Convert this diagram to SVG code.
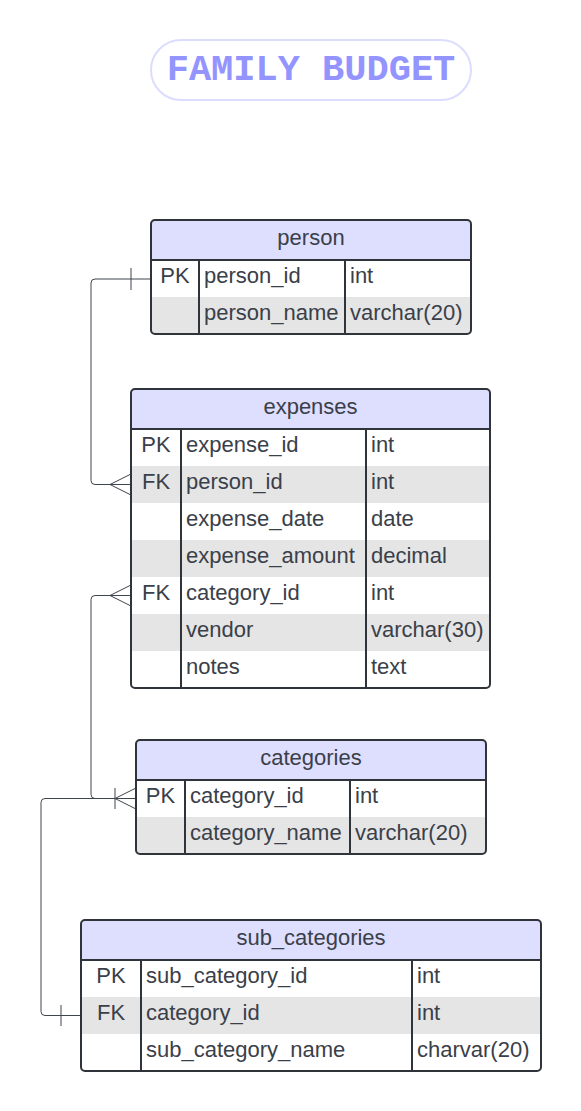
<svg xmlns="http://www.w3.org/2000/svg" width="581" height="1111" viewBox="0 0 581 1111">
<style>
.t{font-family:"Liberation Sans",Arial,sans-serif;font-size:22px;fill:#3a4049}
.c{text-anchor:middle}
.hd{fill:#dedeff}
.gr{fill:#e5e5e5}
.ol{fill:none;stroke:#2f343b;stroke-width:2}
.dv{stroke:#2f343b;stroke-width:2}
.cn{fill:none;stroke:#3f454d;stroke-width:1}
.title{font-family:"Liberation Mono","DejaVu Sans Mono",monospace;font-weight:bold;font-size:37px;fill:#9494ff;text-anchor:middle}
</style>
<defs>
<clipPath id="cp1"><rect x="151" y="220" width="320" height="114" rx="4"/></clipPath>
<clipPath id="cp2"><rect x="131" y="389" width="359" height="299" rx="4"/></clipPath>
<clipPath id="cp3"><rect x="136" y="740" width="350" height="114" rx="4"/></clipPath>
<clipPath id="cp4"><rect x="81" y="920" width="460" height="151" rx="4"/></clipPath>
</defs>
<rect width="581" height="1111" fill="#ffffff"/>
<g id="title">
<rect x="151" y="40" width="320" height="60" rx="30" fill="#ffffff" stroke="#dcdcff" stroke-width="2"/>
<text class="title" x="311" y="80">FAMILY BUDGET</text>
</g>
<g id="connectors">
<path class="cn" d="M151,279 H95 Q91,279 91,283 V480.5 Q91,484.5 95,484.5 H131"/>
<path class="cn" d="M131,268 V290"/>
<path class="cn" d="M131,474 L110,484.5 L131,495"/>
<path class="cn" d="M131,595.5 H95 Q91,595.5 91,599.5 V794.5 Q91,798.5 95,798.5 H136"/>
<path class="cn" d="M131,585 L110,595.5 L131,606"/>
<path class="cn" d="M136,788 L115,798.5 L136,809"/>
<path class="cn" d="M115,788 V809"/>
<path class="cn" d="M136,798.5 H45 Q41,798.5 41,802.5 V1011.5 Q41,1015.5 45,1015.5 H81"/>
<path class="cn" d="M61,1005 V1026"/>
</g>
<g id="person">
<g clip-path="url(#cp1)">
<rect x="151" y="220" width="320" height="114" fill="#ffffff"/>
<rect class="hd" x="151" y="220" width="320" height="40"/>
<rect class="gr" x="151" y="297" width="320" height="37"/>
</g>
<line class="dv" x1="151" y1="260" x2="471" y2="260"/>
<line class="dv" x1="199" y1="260" x2="199" y2="334"/>
<line class="dv" x1="345" y1="260" x2="345" y2="334"/>
<rect class="ol" x="151" y="220" width="320" height="114" rx="4"/>
<text class="t c" x="311" y="245">person</text>
<text class="t c" x="175" y="283">PK</text>
<text class="t" x="204" y="283">person_id</text>
<text class="t" x="350" y="283">int</text>
<text class="t" x="204" y="320">person_name</text>
<text class="t" x="350" y="320">varchar(20)</text>
</g>
<g id="expenses">
<g clip-path="url(#cp2)">
<rect x="131" y="389" width="359" height="299" fill="#ffffff"/>
<rect class="hd" x="131" y="389" width="359" height="40"/>
<rect class="gr" x="131" y="466" width="359" height="37"/>
<rect class="gr" x="131" y="540" width="359" height="37"/>
<rect class="gr" x="131" y="614" width="359" height="37"/>
</g>
<line class="dv" x1="131" y1="429" x2="490" y2="429"/>
<line class="dv" x1="181" y1="429" x2="181" y2="688"/>
<line class="dv" x1="366" y1="429" x2="366" y2="688"/>
<rect class="ol" x="131" y="389" width="359" height="299" rx="4"/>
<text class="t c" x="310.5" y="414">expenses</text>
<text class="t c" x="156" y="452">PK</text>
<text class="t" x="186" y="452">expense_id</text>
<text class="t" x="371" y="452">int</text>
<text class="t c" x="156" y="489">FK</text>
<text class="t" x="186" y="489">person_id</text>
<text class="t" x="371" y="489">int</text>
<text class="t" x="186" y="526">expense_date</text>
<text class="t" x="371" y="526">date</text>
<text class="t" x="186" y="563">expense_amount</text>
<text class="t" x="371" y="563">decimal</text>
<text class="t c" x="156" y="600">FK</text>
<text class="t" x="186" y="600">category_id</text>
<text class="t" x="371" y="600">int</text>
<text class="t" x="186" y="637">vendor</text>
<text class="t" x="371" y="637">varchar(30)</text>
<text class="t" x="186" y="674">notes</text>
<text class="t" x="371" y="674">text</text>
</g>
<g id="categories">
<g clip-path="url(#cp3)">
<rect x="136" y="740" width="350" height="114" fill="#ffffff"/>
<rect class="hd" x="136" y="740" width="350" height="40"/>
<rect class="gr" x="136" y="817" width="350" height="37"/>
</g>
<line class="dv" x1="136" y1="780" x2="486" y2="780"/>
<line class="dv" x1="185" y1="780" x2="185" y2="854"/>
<line class="dv" x1="350" y1="780" x2="350" y2="854"/>
<rect class="ol" x="136" y="740" width="350" height="114" rx="4"/>
<text class="t c" x="311" y="765">categories</text>
<text class="t c" x="160.5" y="803">PK</text>
<text class="t" x="190" y="803">category_id</text>
<text class="t" x="355" y="803">int</text>
<text class="t" x="190" y="840">category_name</text>
<text class="t" x="355" y="840">varchar(20)</text>
</g>
<g id="sub_categories">
<g clip-path="url(#cp4)">
<rect x="81" y="920" width="460" height="151" fill="#ffffff"/>
<rect class="hd" x="81" y="920" width="460" height="40"/>
<rect class="gr" x="81" y="997" width="460" height="37"/>
</g>
<line class="dv" x1="81" y1="960" x2="541" y2="960"/>
<line class="dv" x1="141" y1="960" x2="141" y2="1071"/>
<line class="dv" x1="412" y1="960" x2="412" y2="1071"/>
<rect class="ol" x="81" y="920" width="460" height="151" rx="4"/>
<text class="t c" x="311" y="945">sub_categories</text>
<text class="t c" x="111" y="983">PK</text>
<text class="t" x="146" y="983">sub_category_id</text>
<text class="t" x="417" y="983">int</text>
<text class="t c" x="111" y="1020">FK</text>
<text class="t" x="146" y="1020">category_id</text>
<text class="t" x="417" y="1020">int</text>
<text class="t" x="146" y="1057">sub_category_name</text>
<text class="t" x="417" y="1057">charvar(20)</text>
</g>
</svg>
